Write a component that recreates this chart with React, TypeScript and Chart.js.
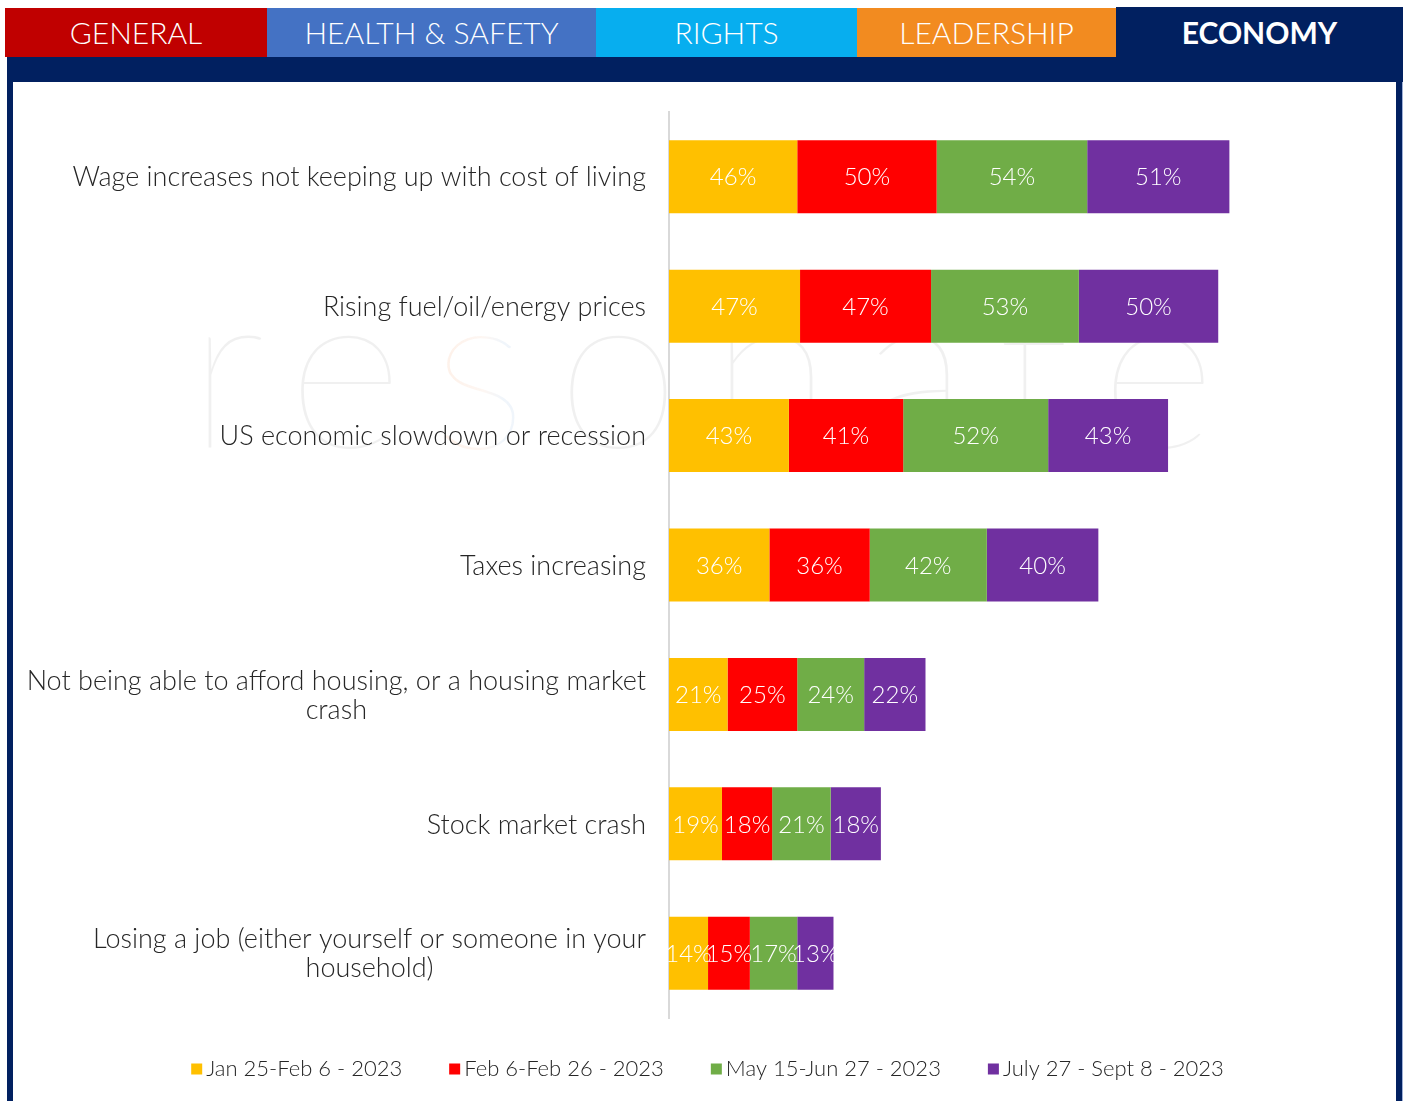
import React, { useEffect, useRef } from "react";
import { Chart, registerables } from "chart.js";

Chart.register(...registerables);

// ---- data ----
const categories: string[][] = [
  ["Wage increases not keeping up with cost of living"],
  ["Rising fuel/oil/energy prices"],
  ["US economic slowdown or recession"],
  ["Taxes increasing"],
  ["Not being able to afford housing, or a housing market", "crash"],
  ["Stock market crash"],
  ["Losing a job (either yourself or someone in your", "household)"],
];
const seriesLabels = [
  "Jan 25-Feb 6 - 2023",
  "Feb 6-Feb 26 - 2023",
  "May 15-Jun 27 - 2023",
  "July 27 - Sept 8 - 2023",
];
const janFeb2023 = [46, 47, 43, 36, 21, 19, 14];
const febFeb2023 = [50, 47, 41, 36, 25, 18, 15];
const mayJun2023 = [54, 53, 52, 42, 24, 21, 17];
const julySept2023 = [51, 50, 43, 40, 22, 18, 13];
const seriesValues = [janFeb2023, febFeb2023, mayJun2023, julySept2023];
const tabLabels = ["GENERAL", "HEALTH & SAFETY", "RIGHTS", "LEADERSHIP", "ECONOMY"];
const watermarkText = "resonate";

// ---- styles ----
const seriesColors = ["#FFC000", "#FF0000", "#70AD47", "#7030A0"];
const tabStyles = [
  { left: 5, width: 262, bg: "#C00000", bold: false, top: 8 },
  { left: 267, width: 329, bg: "#4472C4", bold: false, top: 8 },
  { left: 596, width: 261, bg: "#07AEEF", bold: false, top: 8 },
  { left: 857, width: 259, bg: "#F28B20", bold: false, top: 8 },
  { left: 1116, width: 287, bg: "#012060", bold: true, top: 7 },
];
const NAVY = "#012060";
const FONT = "Lato, 'Open Sans', 'DejaVu Sans', sans-serif";
const TEXT_COLOR = "#262626";

const customPlugin = {
  id: "customDraw",
  beforeDatasetsDraw(chart: any) {
    const ctx = chart.ctx as CanvasRenderingContext2D;
    const { chartArea } = chart;
    ctx.save();
    ctx.font = `100 224px ${FONT}`;
    (ctx as any).letterSpacing = "30px";
    ctx.textAlign = "left";
    ctx.textBaseline = "alphabetic";
    const g = ctx.createLinearGradient(0, 0, chart.width, 0);
    const gray = "rgba(0,0,0,0.06)";
    const w = chart.width;
    g.addColorStop(0, gray);
    g.addColorStop(415 / w, gray);
    g.addColorStop(428 / w, "rgba(245,150,90,0.14)");
    g.addColorStop(470 / w, "rgba(240,170,130,0.10)");
    g.addColorStop(490 / w, "rgba(110,160,215,0.10)");
    g.addColorStop(527 / w, "rgba(110,160,215,0.12)");
    g.addColorStop(540 / w, gray);
    g.addColorStop(1, gray);
    ctx.fillStyle = g;
    const baseY = chartArea.top + 336;
    ctx.fillText(watermarkText, 175, baseY);
    ctx.restore();
  },
  afterDatasetsDraw(chart: any) {
    const ctx = chart.ctx as CanvasRenderingContext2D;
    ctx.save();
    ctx.font = `300 24px ${FONT}`;
    ctx.fillStyle = "#ffffff";
    ctx.textAlign = "center";
    ctx.textBaseline = "middle";
    chart.data.datasets.forEach((ds: any, di: number) => {
      const meta = chart.getDatasetMeta(di);
      meta.data.forEach((bar: any, i: number) => {
        const v = ds.data[i];
        const cx = (bar.x + bar.base) / 2;
        ctx.fillText(`${v}%`, cx, bar.y + 1);
      });
    });
    ctx.restore();
  },
  afterDraw(chart: any) {
    const ctx = chart.ctx as CanvasRenderingContext2D;
    const { chartArea } = chart;
    const yScale = chart.scales.y;
    // category labels
    ctx.save();
    ctx.font = `300 27px ${FONT}`;
    ctx.fillStyle = TEXT_COLOR;
    ctx.textAlign = "center";
    ctx.textBaseline = "middle";
    const right = chartArea.left - 23;
    const lh = 29;
    (chart.data.labels as string[][]).forEach((lines, i) => {
      const y = yScale.getPixelForValue(i);
      const maxW = Math.max(...lines.map((l) => ctx.measureText(l).width));
      const cx = right - maxW / 2;
      lines.forEach((l, j) => {
        ctx.fillText(l, cx, y + 1 + (j - (lines.length - 1) / 2) * lh);
      });
    });
    ctx.restore();

    // legend
    ctx.save();
    ctx.font = `300 22px ${FONT}`;
    ctx.textBaseline = "middle";
    ctx.textAlign = "left";
    const box = 11;
    const gap = 4;
    const itemGap = 47;
    const items = chart.data.datasets.map((ds: any) => ({
      label: ds.label as string,
      color: ds.backgroundColor as string,
      w: ctx.measureText(ds.label).width,
    }));
    const total =
      items.reduce((s: number, it: any) => s + box + gap + it.w, 0) +
      itemGap * (items.length - 1);
    let x = (chart.width - total) / 2 + 3;
    const ly = chartArea.bottom + 51;
    items.forEach((it: any) => {
      ctx.fillStyle = it.color;
      ctx.fillRect(x, ly - box / 2, box, box);
      ctx.fillStyle = TEXT_COLOR;
      ctx.fillText(it.label, x + box + gap, ly);
      x += box + gap + it.w + itemGap;
    });
    ctx.restore();
  },
};

function ChartCanvas() {
  const ref = useRef<HTMLCanvasElement | null>(null);
  useEffect(() => {
    if (!ref.current) return;
    const chart = new Chart(ref.current, {
      type: "bar",
      data: {
        labels: categories as any,
        datasets: seriesValues.map((vals, i) => ({
          label: seriesLabels[i],
          data: vals,
          backgroundColor: seriesColors[i],
          borderWidth: 0,
          barPercentage: 0.564,
          categoryPercentage: 1,
        })),
      },
      options: {
        indexAxis: "y",
        animation: false,
        responsive: true,
        maintainAspectRatio: false,
        layout: { padding: { left: 656, right: 30, top: 30, bottom: 83 } },
        plugins: {
          legend: { display: false },
          tooltip: { enabled: false },
          title: { display: false },
        },
        scales: {
          x: { type: "linear", stacked: true, min: 0, max: 250, display: false },
          y: {
            type: "category",
            stacked: true,
            ticks: { display: false },
            grid: { display: false, drawTicks: false },
            border: { display: true, color: "#d9d9d9", width: 2 },
          },
        },
      },
      plugins: [customPlugin],
    });
    let alive = true;
    if ((document as any).fonts) {
      Promise.all([
        (document as any).fonts.load(`300 24px Lato`),
        (document as any).fonts.load(`100 224px Lato`),
      ])
        .catch(() => {})
        .then(() => {
          if (alive) chart.update();
        });
    }
    return () => {
      alive = false;
      chart.destroy();
    };
  }, []);
  return <canvas ref={ref} />;
}

export default function App() {
  return (
    <div
      style={{
        position: "absolute",
        left: 0,
        top: 0,
        width: 1405,
        height: 1101,
        overflow: "hidden",
        background: "#ffffff",
        fontFamily: FONT,
      }}
    >
      {tabLabels.map((t, i) => {
        const s = tabStyles[i];
        return (
          <div
            key={t}
            style={{
              position: "absolute",
              left: s.left,
              top: s.top,
              width: s.width,
              height: 57 - s.top,
              background: s.bg,
              color: "#ffffff",
              fontSize: 30,
              fontWeight: s.bold ? 700 : 300,
              display: "flex",
              alignItems: "center",
              justifyContent: "center",
              lineHeight: 1,
              paddingBottom: s.bold ? 1 : 2,
              boxSizing: "border-box",
            }}
          >
            {t}
          </div>
        );
      })}
      <div style={{ position: "absolute", left: 7, top: 57, width: 1396, height: 25, background: NAVY }} />
      <div style={{ position: "absolute", left: 7, top: 82, width: 6, height: 1019, background: NAVY }} />
      <div style={{ position: "absolute", left: 1396, top: 82, width: 6, height: 1019, background: NAVY }} />
      <div style={{ position: "absolute", left: 1402, top: 82, width: 1, height: 1019, background: "#9fb0d6" }} />
      <div style={{ position: "absolute", left: 13, top: 82, width: 1383, height: 1019 }}>
        <ChartCanvas />
      </div>
    </div>
  );
}
